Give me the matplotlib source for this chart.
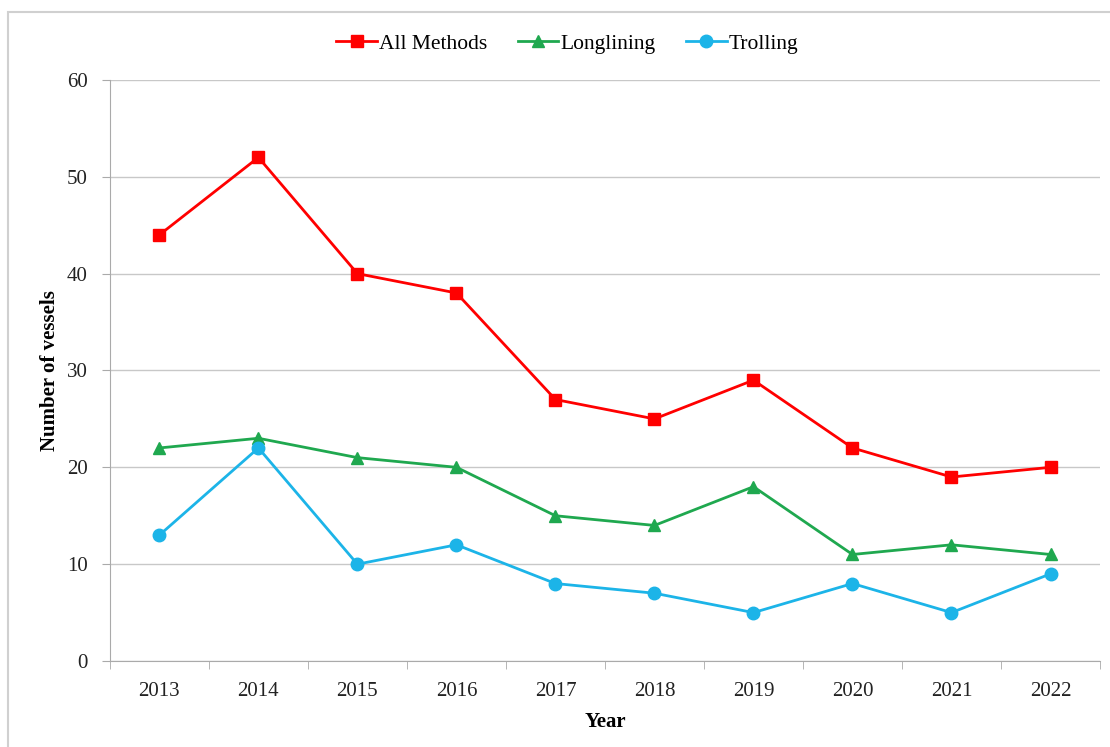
import matplotlib.pyplot as plt
from matplotlib.patches import Rectangle

years = ["2013", "2014", "2015", "2016", "2017", "2018", "2019", "2020", "2021", "2022"]
all_methods = [44, 52, 40, 38, 27, 25, 29, 22, 19, 20]
longlining = [22, 23, 21, 20, 15, 14, 18, 11, 12, 11]
trolling = [13, 22, 10, 12, 8, 7, 5, 8, 5, 9]

plt.rcParams['font.family'] = ['Liberation Serif', 'DejaVu Serif']

fig = plt.figure(figsize=(11.1, 7.47), dpi=100)
ax = fig.add_axes([0.099, 0.1151, 0.892, 0.7779])

# light frame around the whole chart (runs off the right/bottom edges)
fig.patches.append(Rectangle((8 / 1110, -0.05), 1.2, 1 - 12 / 747 + 0.05,
                             transform=fig.transFigure, fill=False,
                             edgecolor='#d0d0d0', linewidth=1.5))

x = range(len(years))
ax.plot(x, all_methods, color='#ff0000', linewidth=2, marker='s', markersize=8, label='All Methods')
ax.plot(x, longlining, color='#1fa84f', linewidth=2, marker='^', markersize=8, label='Longlining')
ax.plot(x, trolling, color='#1cb4e8', linewidth=2, marker='o', markersize=9, label='Trolling')

ax.set_xlim(-0.5, len(years) - 0.5)
ax.set_ylim(0, 60)
ax.set_yticks(range(0, 61, 10))
ax.set_xticks(x)
ax.set_xticklabels(years)
ax.set_xticks([i - 0.5 for i in range(len(years) + 1)], minor=True)
ax.tick_params(axis='x', which='major', length=0, pad=15, labelsize=15, colors='#222222')
ax.tick_params(axis='x', which='minor', length=6, color='#aaaaaa')
ax.tick_params(axis='y', length=6, color='#aaaaaa', pad=10, labelsize=15, labelcolor='#222222')

ax.grid(axis='y', color='#c8c8c8', linewidth=1)
ax.set_axisbelow(True)
for s in ['top', 'right']:
    ax.spines[s].set_visible(False)
ax.spines['left'].set_color('#aaaaaa')
ax.spines['bottom'].set_color('#aaaaaa')

ax.set_xlabel('Year', fontsize=15, fontweight='bold', labelpad=8)
ax.set_ylabel('Number of vessels', fontsize=15, fontweight='bold', labelpad=5)

ax.legend(loc='lower center', bbox_to_anchor=(0.462, 1.012), ncol=3, frameon=False,
          fontsize=15.5, handlelength=1.9, handletextpad=0.1, columnspacing=1.4)

plt.savefig('out.png', dpi=100)
